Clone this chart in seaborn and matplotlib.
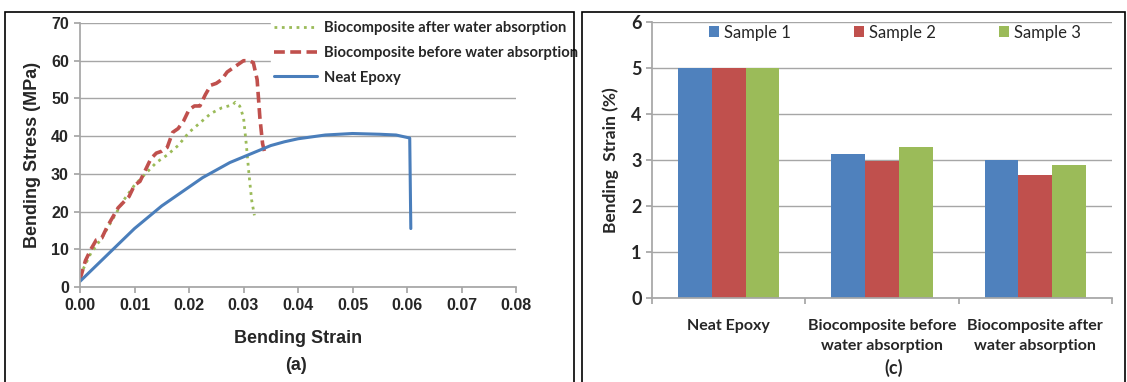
import pandas as pd
import seaborn as sns
import matplotlib.pyplot as plt
import matplotlib.patches as mpatches

# (a) bending stress-strain curves
after_strain = [0.0, 0.001, 0.002, 0.004, 0.006, 0.008, 0.010, 0.012, 0.014, 0.016, 0.018,
                0.020, 0.022, 0.024, 0.026, 0.028, 0.0285, 0.0293, 0.0300, 0.0305, 0.0310,
                0.0315, 0.0320]
after_stress = [3, 6, 9, 13, 18, 23, 27, 30, 33, 35, 37.5,
                41, 43.5, 46, 47.5, 48.3, 49, 48, 45, 38, 30,
                23, 19]

before_strain = [0.0, 0.001, 0.002, 0.003, 0.004, 0.005, 0.007, 0.009, 0.010, 0.011, 0.013,
                 0.014, 0.015, 0.016, 0.017, 0.018, 0.019, 0.020, 0.021, 0.022, 0.023, 0.024,
                 0.025, 0.026, 0.027, 0.028, 0.029, 0.030, 0.031, 0.0318, 0.0325, 0.0330,
                 0.0335, 0.0340]
before_stress = [2, 7, 10, 12.5, 13, 16, 21, 24, 27, 28, 34,
                 35.5, 36, 37, 41, 42, 44, 47, 48, 48, 51, 53.5,
                 54, 55, 57, 58, 59, 60, 60, 59.5, 55, 45,
                 38, 35]

epoxy_strain = [0.0, 0.0025, 0.005, 0.0075, 0.010, 0.0125, 0.015, 0.0175, 0.020, 0.0225,
                0.025, 0.0275, 0.030, 0.0325, 0.035, 0.0375, 0.040, 0.045, 0.050, 0.055,
                0.058, 0.0605, 0.0607]
epoxy_stress = [1.5, 5, 8.5, 12, 15.5, 18.5, 21.5, 24, 26.5, 29,
                31, 33, 34.5, 36, 37.5, 38.5, 39.3, 40.3, 40.7, 40.5,
                40.3, 39.5, 15.5]

# (c) bending strain at failure
groups = ["Neat Epoxy", "Biocomposite before\nwater absorption", "Biocomposite after\nwater absorption"]
samples = ["Sample 1", "Sample 2", "Sample 3"]
sample1 = [5.0, 3.13, 3.0]
sample2 = [5.0, 2.97, 2.68]
sample3 = [5.0, 3.29, 2.90]

sns.set_theme(style="white")
plt.rcParams['font.family'] = ['Liberation Sans', 'DejaVu Sans']
calibri = ['Lato', 'DejaVu Sans']

W, H = 1127, 382
fig = plt.figure(figsize=(W / 100, H / 100), dpi=100)

# ---- left panel
ax1 = fig.add_axes([80 / W, 1 - 287 / H, (516 - 80) / W, (287 - 23) / H])
sns.lineplot(x=after_strain, y=after_stress, ax=ax1, sort=False, estimator=None,
             color='#9bbb59', linestyle=':', lw=2, label='Biocomposite after water absorption')
sns.lineplot(x=before_strain, y=before_stress, ax=ax1, sort=False, estimator=None,
             color='#c0504d', dashes=(3, 1.5), lw=2.6, label='Biocomposite before water absorption')
sns.lineplot(x=epoxy_strain, y=epoxy_stress, ax=ax1, sort=False, estimator=None,
             color='#4a7ebb', linestyle='-', lw=2.2, label='Neat Epoxy')
ax1.set_xlim(0, 0.08)
ax1.set_ylim(0, 70)
ax1.set_xticks([i / 100 for i in range(9)])
ax1.set_xticklabels(['%.2f' % (i / 100) for i in range(9)])
ax1.set_yticks(range(0, 71, 10))
ax1.yaxis.grid(True, color='#a6a6a6', lw=1)
for s in ['top', 'right']:
    ax1.spines[s].set_visible(False)
for s in ['left', 'bottom']:
    ax1.spines[s].set_color('#a6a6a6')
ax1.tick_params(axis='both', which='both', length=4, color='#a6a6a6', direction='out',
                labelsize=11.5, pad=4, bottom=True, left=True)
for t in ax1.get_xticklabels() + ax1.get_yticklabels():
    t.set_fontweight('bold')
ax1.set_xlabel('Bending Strain', fontsize=13, fontweight='bold', labelpad=12)
ax1.set_ylabel('Bending Stress (MPa)', fontsize=13, fontweight='bold', labelpad=7)
leg1 = ax1.legend(loc='upper left', bbox_to_anchor=(264 / W, 1 - 11 / H),
                  bbox_transform=fig.transFigure, frameon=True, fancybox=False,
                  edgecolor='white', framealpha=1, handlelength=2.9, handletextpad=0.45,
                  labelspacing=0.72, borderpad=0.2,
                  prop={'family': calibri, 'weight': 'bold', 'size': 10.6})

# ---- right panel
df = pd.DataFrame({
    'group': groups * 3,
    'sample': [samples[0]] * 3 + [samples[1]] * 3 + [samples[2]] * 3,
    'value': sample1 + sample2 + sample3,
})
ax2 = fig.add_axes([652 / W, 1 - 298 / H, (1112 - 652) / W, (298 - 22) / H])
sns.barplot(data=df, x='group', y='value', hue='sample', ax=ax2, width=0.66,
            palette=['#4f81bd', '#c0504d', '#9bbb59'], saturation=1, errorbar=None,
            linewidth=0)
ax2.set_ylim(0, 6)
ax2.set_xlim(-0.5, 2.5)
ax2.set_yticks(range(7))
ax2.yaxis.grid(True, color='#a6a6a6', lw=1)
ax2.set_axisbelow(True)
for s in ['top', 'right']:
    ax2.spines[s].set_visible(False)
for s in ['left', 'bottom']:
    ax2.spines[s].set_color('#a6a6a6')
ax2.set_xticks([-0.5, 0.5, 1.5, 2.5], minor=False)
ax2.set_xticklabels([])
ax2.set_xticks([0, 1, 2], minor=True)
ax2.set_xticklabels(groups, minor=True, fontfamily=calibri, fontweight='bold', fontsize=11.5,
                    linespacing=1.55)
ax2.tick_params(axis='x', which='major', length=4, color='#a6a6a6', direction='out', bottom=True)
ax2.tick_params(axis='x', which='minor', length=0, pad=15)
ax2.tick_params(axis='y', length=4, color='#a6a6a6', direction='out', left=True, labelsize=13)
for t in ax2.get_yticklabels():
    t.set_fontfamily(calibri)
    t.set_fontweight('bold')
ax2.set_xlabel('')
ax2.set_ylabel('Bending  Strain (%)', fontfamily=calibri, fontweight='bold', fontsize=12.5,
               labelpad=9)
ax2.legend(loc='upper center', bbox_to_anchor=(0.528, 1.03), ncol=3, frameon=False,
           handlelength=0.6, handleheight=0.6, handletextpad=0.3, columnspacing=3.8,
           borderpad=0.15, prop={'family': calibri, 'size': 12})

# sub-figure labels and frames
fig.text(296 / W, 1 - 365 / H, '(a)', ha='center', va='center', fontsize=13, fontweight='bold')
fig.text(894 / W, 1 - 368 / H, '(c)', ha='center', va='center', fontsize=13, fontweight='bold',
         fontfamily=calibri)
fig.add_artist(mpatches.Rectangle((5 / W, -0.02), (574 - 5) / W, (382 - 12) / H + 0.02,
                                  transform=fig.transFigure, fill=False, ec='black', lw=1.2))
fig.add_artist(mpatches.Rectangle((582 / W, -0.02), (1125 - 582) / W, (382 - 12) / H + 0.02,
                                  transform=fig.transFigure, fill=False, ec='black', lw=1.2))

fig.savefig('out.png', dpi=100)
